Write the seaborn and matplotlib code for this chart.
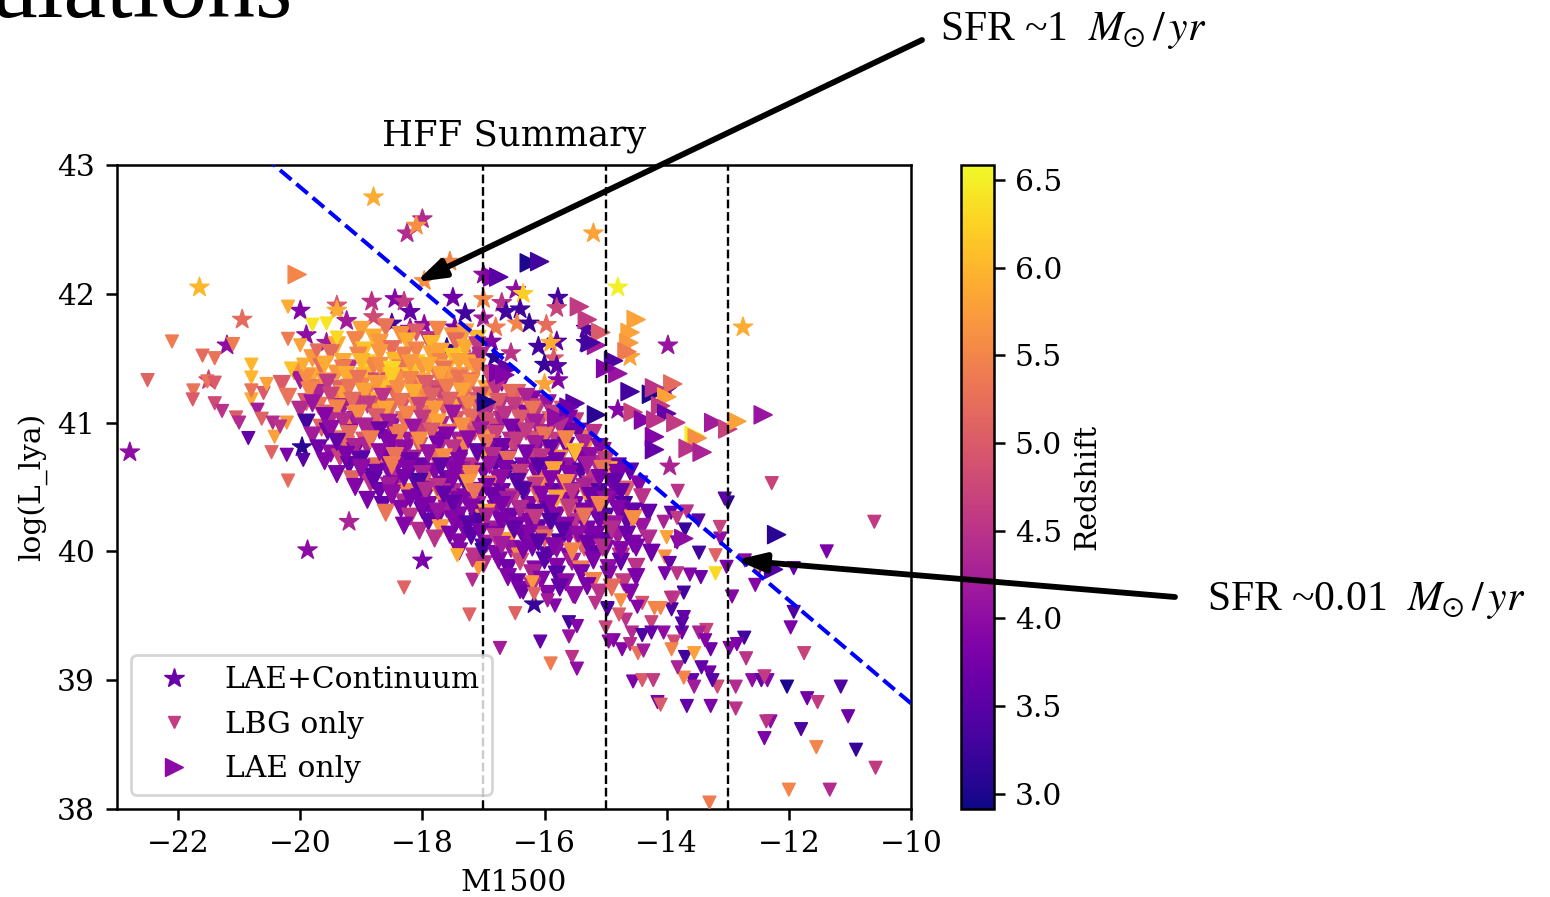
import numpy as np
import pandas as pd
import matplotlib
matplotlib.use("Agg")
import matplotlib.pyplot as plt
import seaborn as sns
from matplotlib.colors import Normalize
from matplotlib.cm import ScalarMappable
from matplotlib.lines import Line2D

# ---------- data ----------
star_m1500 = [-22.79,-21.65,-20.95,-18.8,-18.0,-18.25,-18.1,-17.55,-17.97,-15.2,-14.8,-12.75,-13.98,-19.88,
  -20.0,-19.4,-19.4,-19.24,-18.83,-18.45,-18.3,-18.2,-18.5,-18.8,-18.2,-17.97,-17.5,-17.3,-17.47,-17.0,-17.0,-16.8,-17.0,
  -16.87,-16.82,-17.3,-17.6,-17.4,-17.15,-21.2,-21.5,-19.9,-19.57,-19.97,-19.3,-19.2,-18.0,-16.17,
  -16.47,-16.35,-16.7,-16.63,-16.4,-16.45,-16.25,-15.97,-15.78,-15.8,-15.32,-15.32,-16.1,-15.8,-15.9,-15.85,-16.0,-15.8,-15.78,-16.0,-16.55,
  -14.6,-14.8,-14.0,-13.95]
star_loglya = [40.77,42.05,41.8,42.75,42.58,42.47,42.53,42.25,42.1,42.47,42.05,41.74,41.6,40.01,
  41.87,41.91,41.87,41.79,41.94,41.96,41.94,41.86,41.77,41.82,41.73,41.76,41.97,41.85,41.74,41.96,41.81,41.74,42.15,
  41.63,41.51,41.6,41.58,41.52,41.51,41.6,41.33,41.68,41.62,40.81,40.79,40.23,39.93,39.59,
  42.03,42.0,41.93,41.86,41.88,41.77,41.77,41.76,41.97,41.89,41.73,41.62,41.59,41.63,41.62,41.5,41.45,41.44,41.33,41.3,41.54,
  41.51,41.1,41.25,40.66]
star_z = [4.0,6.0,5.2,5.9,4.4,4.4,5.6,5.5,5.6,5.8,6.5,5.9,4.1,4.0,
  3.9,5.0,5.9,4.2,4.5,3.9,4.6,3.6,3.3,4.8,4.1,4.0,3.7,3.3,3.8,5.5,4.2,5.4,4.0,
  3.9,3.1,5.0,3.1,6.4,4.5,4.0,4.7,4.0,4.2,3.1,3.2,4.3,3.8,3.2,
  4.0,6.2,4.5,3.3,3.3,5.5,3.2,5.2,3.3,4.7,3.4,3.4,3.3,3.5,5.9,5.0,3.2,3.5,3.9,5.8,4.5,
  5.8,3.9,3.5,4.3]

lae_m1500 = [-20.05,-16.85,-16.75,-16.25,-16.08,-15.43,-15.3,-15.08,-15.15,-15.25,-14.5,-14.6,-14.62,-14.65,-14.87,-14.8,-15.0,
  -13.9,-14.6,-14.25,-14.2,-14.0,-14.1,-14.0,-14.55,-14.38,-14.18,-13.85,-13.23,-13.0,-12.85,-12.42,-13.55,-13.5,-13.65,-13.42,
  -14.2,-14.2,-15.15,-15.5,-15.8,-16.75,-16.95,-12.2,-12.25,-16.6,-16.65,-15.6,-13.72]
lae_loglya = [42.15,42.13,42.13,42.24,42.25,41.9,41.8,41.7,41.6,41.62,41.8,41.7,41.62,41.55,41.48,41.38,41.42,
  41.3,41.24,41.22,41.27,41.2,41.13,41.07,41.08,41.02,41.02,41.0,41.0,40.95,41.01,41.06,40.9,40.88,40.8,40.77,
  40.89,40.79,41.06,41.15,41.04,41.39,41.16,40.13,39.86,41.42,41.37,41.12,40.1]
lae_z = [5.5,3.9,3.5,3.0,3.3,4.6,4.6,5.0,4.2,3.3,5.8,5.8,5.7,5.4,3.4,4.1,3.9,
  5.2,3.3,3.0,4.5,5.8,4.6,3.6,4.7,3.9,4.5,4.6,4.2,4.7,5.8,4.1,6.5,5.6,4.5,4.3,
  3.9,3.6,3.1,3.5,4.0,3.8,3.0,3.1,3.4,3.6,3.9,3.7,4.0]

lbg_sparse_m1500 = [-22.1,-22.5,-21.6,-21.4,-21.1,-21.75,-21.76,-21.52,-21.4,-21.4,-21.28,-21.05,-21.0,-20.85,-20.47,-20.22,-19.95,-20.2,
  -20.2,-20.2,-20.8,-20.8,-20.8,-20.8,-20.6,-20.7,-20.63,-20.42,-20.45,-20.22,-20.33,-19.8,-19.57,-19.4,-20.0,-19.73,-20.15,-19.95,-20.55,
  -18.3,-17.23,-16.48,-16.73,-16.07,-15.9,-15.55,-15.47,-15.6,-15.47,-15.6,-17.18,-17.08,-17.18,-17.43,-17.03,-16.35,-16.2,-16.17,-15.83,-15.95,-15.53,-15.17,-14.97,
  -12.28,-10.6,-11.38,-13.0,-13.05,-13.47,-13.2,-13.02,-13.2,-13.62,-13.44,-13.12,-13.13,-13.48,-13.67,-13.82,-13.93,-14.05,-13.83,-14.0,-13.7,-13.83,-14.03,-13.95,-14.03,-13.83,
  -12.55,-12.5,-11.92,-12.72,-12.52,-12.93,-11.92,-11.97,-11.75,-12.73,-12.85,-12.97,-12.7,-12.6,-12.45,-12.35,-12.4,-12.03,-11.7,-11.53,-11.15,-11.03,-11.8,-10.9,-10.58,-11.55,
  -12.3,-12.37,-12.4,-12.0,-11.33,-13.3,-12.87,-12.87,-13.17,-13.28,-13.67,-14.15,-14.1,-14.55,-14.4,-14.22,-13.58,-13.55,-13.72,-13.82,-13.7,-13.55,-13.43,-13.3,-13.25,-13.28,
  -13.35,-13.47,-13.37,-13.75,-13.75,-13.72,-13.72,-13.88,-13.92,-14.05,-13.88,-13.92,-14.25,-14.67,-14.78,-14.4,-14.2,-14.1,-14.48,-13.93,-14.75,-14.97,-15.0,-14.57,-14.4,-14.25,-14.87,-14.95,-14.73,-14.6,-14.47,-14.38]
lbg_sparse_loglya = [41.63,41.33,41.52,41.5,41.61,41.25,41.18,41.32,41.31,41.15,41.09,41.04,41.0,40.88,40.77,40.75,40.71,40.55,
  41.9,41.65,41.45,41.35,41.18,41.25,41.23,41.1,41.03,40.89,41.0,41.0,40.97,41.76,41.77,41.66,41.6,41.56,41.42,41.45,41.3,
  39.72,39.51,39.52,39.25,39.3,39.13,39.18,39.09,39.45,39.42,39.34,39.78,39.87,39.93,39.97,40.01,39.68,39.76,39.67,39.58,39.62,39.65,39.6,39.55,
  40.53,40.23,40.0,40.38,40.41,39.99,39.97,39.88,39.83,39.82,39.8,40.1,40.19,40.24,40.31,40.47,40.3,40.23,40.26,40.11,40.17,40.07,39.96,39.91,39.83,39.83,
  39.74,39.86,39.87,39.93,39.88,39.65,39.53,39.41,39.21,39.33,39.28,39.25,39.17,39.0,39.0,39.0,39.03,38.95,38.86,38.83,38.95,38.72,38.62,38.46,38.32,38.48,
  38.68,38.68,38.55,38.15,38.15,38.05,38.95,38.78,38.95,38.8,38.8,38.83,38.81,38.99,39.0,39.0,39.0,38.95,39.02,39.1,39.18,39.21,39.1,39.06,39.0,39.24,
  39.39,39.37,39.31,39.37,39.44,39.49,39.68,39.64,39.55,39.37,39.3,39.24,39.45,39.47,39.51,39.6,39.56,39.56,39.57,39.64,39.62,39.56,39.41,39.37,39.35,39.37,39.31,39.3,39.24,39.28,39.21,39.23]
lbg_sparse_z = [5.4,5.1,5.2,5.3,5.4,5.3,5.0,5.3,5.0,4.8,4.5,5.0,4.4,3.6,5.1,3.8,3.5,5.2,
  5.9,5.4,6.0,6.0,5.9,5.3,5.0,4.2,5.1,5.8,4.4,5.7,4.5,6.4,6.4,6.3,5.8,5.2,6.1,5.9,5.8,
  5.1,5.1,5.1,4.2,3.6,5.4,4.5,4.0,3.3,3.9,4.1,4.4,5.7,4.5,5.9,3.3,3.7,5.7,5.1,3.9,4.2,4.0,4.5,3.5,
  4.7,4.6,3.8,3.1,3.5,3.3,5.1,3.8,6.3,3.9,3.7,4.0,4.7,3.5,4.5,4.5,3.6,4.3,4.6,5.8,3.2,3.9,5.6,3.6,3.8,4.5,
  3.9,4.1,3.6,4.0,5.8,3.9,3.4,3.8,4.7,3.3,3.8,3.9,4.5,4.0,3.6,3.9,4.6,3.0,3.7,4.6,3.4,3.7,3.4,3.2,4.6,5.5,
  4.0,4.5,3.8,5.5,4.4,5.4,4.4,4.5,4.8,3.8,3.6,3.8,5.0,3.8,5.0,4.6,3.6,4.2,5.5,4.3,3.3,5.8,3.6,3.7,3.5,3.7,
  4.7,4.3,3.9,3.7,3.4,3.6,3.3,4.6,3.4,4.0,4.8,5.5,4.7,4.5,5.0,4.9,5.5,5.5,3.9,4.5,5.6,3.4,4.7,4.4,3.4,3.6,3.9,4.0,3.9,4.4,5.3,4.2]

lbg_cloud_m1500 = [
  -19.0,-18.8,-18.6,-18.35,-18.1,-17.9,-17.75,-17.5,-17.3,-17.1,
  -19.4,-19.1,-18.95,-18.7,-18.5,-18.25,-18.1,-17.85,-17.7,-17.45,-17.3,-17.1,
  -19.8,-19.5,-19.3,-19.05,-18.9,-18.7,-18.45,-18.3,-18.1,-17.85,-17.7,-17.5,-17.25,-17.05,
  -20.1,-19.8,-19.65,-19.4,-19.2,-18.95,-18.8,-18.6,-18.35,-18.2,-18.0,-17.75,-17.6,-17.4,-17.15,-16.9,
  -20.3,-20.0,-19.75,-19.6,-19.35,-19.2,-19.0,-18.75,-18.6,-18.4,-18.15,-18.0,-17.8,-17.55,-17.4,-17.2,-16.95,-16.7,
  -20.2,-19.9,-19.7,-19.45,-19.3,-19.05,-18.9,-18.7,-18.45,-18.3,-18.05,-17.9,-17.7,-17.45,-17.3,-17.1,-16.85,-16.7,-16.45,-16.2,
  -20.0,-19.7,-19.55,-19.3,-19.1,-18.85,-18.7,-18.5,-18.25,-18.1,-17.9,-17.65,-17.5,-17.3,-17.05,-16.9,-16.7,-16.45,-16.3,-16.1,-15.85,-15.7,
  -19.9,-19.65,-19.5,-19.25,-19.1,-18.9,-18.65,-18.5,-18.3,-18.05,-17.9,-17.7,-17.45,-17.3,-17.1,-16.85,-16.7,-16.5,-16.25,-16.1,-15.9,-15.7,-15.5,
  -19.8,-19.55,-19.4,-19.2,-18.95,-18.8,-18.6,-18.35,-18.2,-18.0,-17.75,-17.6,-17.4,-17.15,-17.0,-16.8,-16.55,-16.4,-16.2,-15.95,-15.8,-15.6,-15.35,-15.2,
  -19.7,-19.5,-19.25,-19.1,-18.9,-18.65,-18.5,-18.3,-18.05,-17.9,-17.7,-17.45,-17.3,-17.1,-16.85,-16.7,-16.5,-16.25,-16.1,-15.9,-15.65,-15.5,-15.3,-15.05,
  -19.6,-19.35,-19.2,-19.0,-18.75,-18.6,-18.4,-18.15,-18.0,-17.8,-17.55,-17.4,-17.2,-16.95,-16.8,-16.6,-16.35,-16.2,-16.0,-15.75,-15.6,-15.4,-15.15,-15.0,-14.8,
  -19.4,-19.15,-19.0,-18.8,-18.55,-18.4,-18.2,-17.95,-17.8,-17.6,-17.35,-17.2,-17.0,-16.75,-16.6,-16.4,-16.15,-16.0,-15.8,-15.55,-15.4,-15.2,-14.95,-14.8,-14.6,
  -19.1,-18.85,-18.7,-18.5,-18.25,-18.1,-17.9,-17.65,-17.5,-17.3,-17.05,-16.9,-16.7,-16.45,-16.3,-16.1,-15.85,-15.7,-15.5,-15.25,-15.1,-14.9,-14.65,-14.45,
  -18.9,-18.65,-18.5,-18.3,-18.05,-17.9,-17.7,-17.45,-17.3,-17.1,-16.85,-16.7,-16.5,-16.25,-16.1,-15.9,-15.65,-15.5,-15.3,-15.05,-14.9,-14.7,-14.4,
  -18.6,-18.35,-18.2,-18.0,-17.75,-17.6,-17.4,-17.15,-17.0,-16.8,-16.55,-16.4,-16.2,-15.95,-15.8,-15.6,-15.35,-15.2,-15.0,-14.75,-14.55,-14.3,
  -18.3,-18.05,-17.9,-17.7,-17.45,-17.3,-17.1,-16.85,-16.7,-16.5,-16.25,-16.1,-15.9,-15.65,-15.5,-15.3,-15.05,-14.9,-14.65,-14.4,
  -17.8,-17.55,-17.4,-17.2,-16.95,-16.8,-16.6,-16.35,-16.2,-16.0,-15.75,-15.6,-15.4,-15.15,-15.0,-14.8,-14.55,-14.3,
  -17.4,-17.15,-17.0,-16.8,-16.55,-16.4,-16.2,-15.95,-15.8,-15.6,-15.35,-15.2,-15.0,-14.75,-14.5,-14.25,
  -17.0,-16.75,-16.6,-16.4,-16.15,-16.0,-15.8,-15.55,-15.4,-15.2,-14.95,-14.75,-14.5,
  -16.6,-16.45,-16.2,-16.05,-15.8,-15.65,-15.4,-15.2,-14.95,-14.7,-14.5,
  -16.4,-16.2,-15.95,-15.75,-15.5,-15.3,-15.1,-14.9,-14.6]
lbg_cloud_loglya = [
  41.72,41.66,41.74,41.68,41.7,41.64,41.72,41.67,41.7,41.65,
  41.6,41.64,41.56,41.62,41.57,41.63,41.56,41.61,41.55,41.63,41.58,41.6,
  41.5,41.54,41.47,41.52,41.46,41.54,41.48,41.52,41.46,41.53,41.47,41.51,41.46,41.52,
  41.4,41.36,41.43,41.38,41.42,41.36,41.44,41.38,41.42,41.36,41.43,41.37,41.42,41.36,41.43,41.38,
  41.3,41.33,41.27,41.32,41.26,41.33,41.28,41.32,41.26,41.33,41.27,41.32,41.26,41.33,41.28,41.32,41.26,41.31,
  41.2,41.16,41.23,41.18,41.22,41.16,41.23,41.17,41.22,41.16,41.23,41.18,41.22,41.16,41.23,41.17,41.22,41.16,41.23,41.18,
  41.1,41.13,41.07,41.12,41.06,41.13,41.08,41.12,41.06,41.13,41.07,41.12,41.06,41.13,41.08,41.12,41.06,41.13,41.07,41.12,41.06,41.1,
  41.0,40.96,41.03,40.98,41.02,40.96,41.03,40.97,41.02,40.96,41.03,40.98,41.02,40.96,41.03,40.97,41.02,40.96,41.03,40.98,41.02,40.96,41.01,
  40.9,40.93,40.87,40.92,40.86,40.93,40.88,40.92,40.86,40.93,40.87,40.92,40.86,40.93,40.88,40.92,40.86,40.93,40.87,40.92,40.86,40.93,40.88,40.92,
  40.8,40.76,40.83,40.78,40.82,40.76,40.83,40.77,40.82,40.76,40.83,40.78,40.82,40.76,40.83,40.77,40.82,40.76,40.83,40.78,40.82,40.76,40.83,40.78,
  40.7,40.73,40.67,40.72,40.66,40.73,40.68,40.72,40.66,40.73,40.67,40.72,40.66,40.73,40.68,40.72,40.66,40.73,40.67,40.72,40.66,40.73,40.68,40.72,40.66,
  40.6,40.56,40.63,40.58,40.62,40.56,40.63,40.57,40.62,40.56,40.63,40.58,40.62,40.56,40.63,40.57,40.62,40.56,40.63,40.58,40.62,40.56,40.63,40.58,40.62,
  40.5,40.53,40.47,40.52,40.46,40.53,40.48,40.52,40.46,40.53,40.47,40.52,40.46,40.53,40.48,40.52,40.46,40.53,40.47,40.52,40.46,40.53,40.48,40.52,
  40.4,40.36,40.43,40.38,40.42,40.36,40.43,40.37,40.42,40.36,40.43,40.38,40.42,40.36,40.43,40.37,40.42,40.36,40.43,40.38,40.42,40.36,40.42,
  40.3,40.33,40.27,40.32,40.26,40.33,40.28,40.32,40.26,40.33,40.27,40.32,40.26,40.33,40.28,40.32,40.26,40.33,40.27,40.32,40.26,40.3,
  40.2,40.16,40.23,40.18,40.22,40.16,40.23,40.17,40.22,40.16,40.23,40.18,40.22,40.16,40.23,40.17,40.22,40.16,40.23,40.19,
  40.1,40.13,40.07,40.12,40.06,40.13,40.08,40.12,40.06,40.13,40.07,40.12,40.06,40.13,40.08,40.12,40.06,40.1,
  40.0,39.96,40.03,39.98,40.02,39.96,40.03,39.97,40.02,39.96,40.03,39.98,40.02,39.96,40.03,39.99,
  39.9,39.93,39.87,39.92,39.86,39.93,39.88,39.92,39.86,39.93,39.87,39.92,39.88,
  39.8,39.76,39.83,39.78,39.82,39.76,39.83,39.77,39.82,39.76,39.8,
  39.7,39.73,39.67,39.72,39.66,39.73,39.68,39.72,39.68]
lbg_cloud_z = [
  5.8,5.9,5.3,5.6,5.0,4.5,5.5,5.7,5.8,6.0,
  5.9,5.5,6.1,5.7,5.2,5.9,5.5,6.0,5.8,5.2,5.9,4.6,
  5.7,5.2,5.9,5.5,6.2,5.7,6.0,5.4,6.2,5.8,5.5,6.1,5.8,4.4,
  5.6,5.9,5.2,5.7,4.4,6.0,5.5,5.9,5.3,6.1,5.7,5.4,5.9,5.6,5.8,4.5,
  5.0,4.2,5.4,5.7,5.1,5.9,5.5,4.8,6.1,5.6,5.3,5.9,4.9,5.7,5.5,5.1,5.8,4.0,
  5.3,5.0,4.3,5.5,5.8,4.6,5.4,6.0,5.2,4.9,5.7,5.5,4.7,5.9,5.3,5.0,5.6,4.4,5.1,3.9,
  4.4,5.3,5.1,4.2,5.5,4.9,5.7,5.2,4.5,5.6,5.4,5.0,5.7,4.7,5.3,4.4,4.9,5.2,3.9,4.6,4.3,5.0,
  3.3,5.1,4.4,5.5,4.2,4.9,5.4,4.1,5.3,4.7,5.6,4.3,5.0,5.4,4.1,4.8,4.3,5.0,4.5,4.7,5.2,3.9,4.6,
  4.2,3.7,5.3,4.0,5.0,4.3,3.9,5.4,4.1,4.7,3.8,5.3,4.2,4.9,5.7,4.1,4.4,3.7,4.9,4.3,4.6,3.6,5.3,4.5,
  3.7,4.0,5.2,3.8,4.3,5.3,3.9,4.1,5.0,3.7,4.4,3.9,5.5,4.1,4.0,3.6,4.7,5.2,3.9,4.5,3.7,4.2,5.6,4.0,
  3.9,4.7,3.6,4.0,5.2,3.8,3.9,4.3,3.7,5.3,4.0,3.8,4.5,5.8,3.5,4.1,3.9,4.6,3.7,5.5,4.1,3.8,4.4,5.6,3.7,
  3.8,5.1,4.0,3.5,3.9,4.4,3.7,5.0,3.9,3.6,4.2,5.6,3.8,4.0,3.3,4.5,3.9,5.2,3.7,4.1,3.5,4.6,5.9,3.9,3.6,
  3.9,4.5,3.7,3.9,5.5,3.6,4.0,3.8,4.4,3.5,3.9,5.2,3.7,4.1,3.8,5.7,3.6,4.0,3.9,4.5,3.4,3.8,5.0,3.9,
  3.8,3.6,4.0,4.4,3.7,3.9,5.6,3.5,3.9,4.2,3.8,3.6,4.6,3.9,5.3,3.4,4.0,3.8,5.8,3.6,3.9,3.3,4.5,
  5.3,3.9,4.5,3.6,3.8,4.2,3.9,3.4,5.6,4.0,3.7,3.9,4.6,3.5,3.9,5.4,3.7,4.0,3.4,3.8,5.0,3.6,
  3.9,4.4,3.6,5.7,3.8,3.9,3.4,4.2,3.8,5.2,3.9,3.6,4.0,3.3,4.5,3.8,5.6,3.9,3.6,4.1,
  4.5,3.8,3.9,3.5,4.3,3.9,5.8,3.7,3.9,4.6,3.4,3.9,5.0,3.8,3.6,4.2,3.9,4.4,
  3.9,4.5,3.4,3.9,4.1,5.6,3.8,3.5,4.0,3.9,5.0,3.6,3.9,4.5,3.8,3.7,
  4.4,3.9,3.7,4.8,3.9,3.5,3.9,4.2,5.4,3.8,4.0,3.6,4.5,
  3.9,3.7,4.3,3.9,3.5,4.0,3.8,5.5,3.9,4.6,3.8,
  3.8,4.4,3.9,3.6,4.0,3.8,4.5,5.2,3.9]

lbg_core_m1500 = [
  -19.6,-19.3,-19.0,-18.7,-18.5,-18.2,-17.9,-17.65,-17.4,-17.1,
  -19.9,-19.55,-19.25,-19.05,-18.75,-18.5,-18.2,-17.95,-17.7,-17.4,-17.2,-16.9,
  -19.85,-19.5,-19.2,-18.95,-18.65,-18.4,-18.15,-17.85,-17.6,-17.35,-17.05,-16.8,-16.55,-16.3,
  -19.8,-19.4,-19.15,-18.9,-18.6,-18.35,-18.05,-17.8,-17.55,-17.25,-17.0,-16.75,-16.5,-16.2,-15.95,
  -19.6,-19.3,-19.05,-18.75,-18.55,-18.25,-18.0,-17.75,-17.5,-17.2,-16.95,-16.65,-16.4,-16.15,-15.85,-15.6,
  -19.5,-19.2,-18.95,-18.7,-18.4,-18.15,-17.85,-17.6,-17.35,-17.05,-16.8,-16.55,-16.3,-16.0,-15.75,-15.45,
  -19.4,-19.1,-18.85,-18.55,-18.3,-18.05,-17.75,-17.5,-17.25,-16.95,-16.7,-16.45,-16.15,-15.9,-15.65,-15.35,-15.1,
  -19.25,-19.0,-18.7,-18.45,-18.2,-17.9,-17.65,-17.4,-17.1,-16.85,-16.6,-16.3,-16.05,-15.8,-15.5,-15.25,-15.0,
  -19.0,-18.75,-18.5,-18.25,-18.0,-17.7,-17.45,-17.2,-16.9,-16.65,-16.4,-16.1,-15.85,-15.6,-15.3,-15.05,-14.8,
  -18.8,-18.55,-18.3,-18.05,-17.75,-17.5,-17.25,-16.95,-16.7,-16.45,-16.15,-15.9,-15.65,-15.35,-15.1,-14.85,
  -18.5,-18.2,-17.95,-17.65,-17.4,-17.15,-16.85,-16.6,-16.35,-16.05,-15.8,-15.55,-15.25,-15.0,-14.75,
  -18.0,-17.75,-17.5,-17.2,-16.95,-16.7,-16.4,-16.15,-15.9,-15.6,-15.35,-15.1,-14.8,-14.55,
  -17.5,-17.25,-16.95,-16.7,-16.45,-16.15,-15.9,-15.65,-15.35,-15.1,-14.85,-14.55,
  -17.05,-16.8,-16.5,-16.25,-16.0,-15.7,-15.45,-15.2,-14.9,-14.65,
  -16.7,-16.35,-16.1,-15.85,-15.55,-15.3,-15.05,-14.75]
lbg_core_loglya = [
  41.45,41.42,41.47,41.44,41.41,41.46,41.44,41.41,41.47,41.43,
  41.35,41.31,41.37,41.34,41.3,41.36,41.33,41.3,41.37,41.34,41.31,41.36,
  41.25,41.21,41.27,41.24,41.2,41.26,41.23,41.2,41.27,41.24,41.21,41.26,41.23,41.2,
  41.15,41.11,41.17,41.14,41.1,41.16,41.13,41.1,41.17,41.14,41.11,41.16,41.13,41.1,41.15,
  41.05,41.01,41.07,41.04,41.0,41.06,41.03,41.0,41.07,41.04,41.01,41.06,41.03,41.0,41.07,41.03,
  40.95,40.91,40.97,40.94,40.9,40.96,40.93,40.9,40.97,40.94,40.91,40.96,40.93,40.9,40.97,40.93,
  40.85,40.81,40.87,40.84,40.8,40.86,40.83,40.8,40.87,40.84,40.81,40.86,40.83,40.8,40.87,40.84,40.81,
  40.75,40.71,40.77,40.74,40.7,40.76,40.73,40.7,40.77,40.74,40.71,40.76,40.73,40.7,40.77,40.74,40.71,
  40.65,40.61,40.67,40.64,40.6,40.66,40.63,40.6,40.67,40.64,40.61,40.66,40.63,40.6,40.67,40.64,40.61,
  40.55,40.51,40.57,40.54,40.5,40.56,40.53,40.5,40.57,40.54,40.51,40.56,40.53,40.5,40.57,40.54,
  40.45,40.41,40.47,40.44,40.4,40.46,40.43,40.4,40.47,40.44,40.41,40.46,40.43,40.4,40.46,
  40.35,40.31,40.37,40.34,40.3,40.36,40.33,40.3,40.37,40.34,40.31,40.36,40.33,40.31,
  40.25,40.21,40.27,40.24,40.2,40.26,40.23,40.2,40.27,40.24,40.21,40.25,
  40.15,40.11,40.17,40.14,40.1,40.16,40.13,40.1,40.17,40.13,
  40.05,40.01,40.07,40.04,40.0,40.06,40.03,40.01]
lbg_core_z = [
  5.9,5.4,6.0,5.6,6.3,5.7,5.9,5.3,5.8,5.5,
  5.6,4.6,5.9,5.3,5.7,6.2,5.5,5.0,5.8,5.3,5.6,4.8,
  5.5,4.7,5.3,5.8,4.5,5.6,5.9,5.1,5.4,5.8,4.9,4.5,5.2,4.3,
  4.1,5.5,5.2,4.6,5.8,5.3,4.7,5.7,5.1,5.5,4.4,5.0,4.6,5.3,4.1,
  3.9,4.4,5.6,5.0,4.2,5.5,4.6,5.8,4.1,5.2,4.8,4.5,5.0,4.2,4.6,3.9,
  4.0,5.2,4.3,3.7,5.4,4.1,5.0,3.9,5.6,4.2,4.7,3.8,4.6,5.3,4.4,3.7,
  3.6,4.3,5.4,3.9,4.0,5.6,3.8,4.5,4.0,5.3,3.7,4.6,4.2,3.6,5.5,4.3,3.9,
  3.8,3.5,4.0,5.3,3.7,4.1,5.6,3.9,3.6,4.4,5.2,3.8,4.5,3.7,6.0,4.0,4.6,
  4.0,3.7,5.4,3.9,4.3,3.6,3.9,5.5,4.1,3.8,4.6,3.5,5.8,3.9,4.2,5.3,3.8,
  3.6,4.2,3.8,3.4,4.5,3.9,5.7,3.8,4.0,3.5,4.6,3.9,5.6,4.3,3.8,3.6,
  4.0,3.8,4.4,3.6,3.9,5.3,3.7,4.2,3.4,3.9,5.8,4.5,3.7,4.0,3.6,
  3.8,4.1,3.6,3.9,5.7,3.8,4.4,3.5,3.9,4.6,3.8,5.5,3.9,3.6,
  3.9,3.5,4.3,3.8,3.9,4.6,3.4,3.9,5.3,3.7,4.1,5.6,
  3.8,4.5,3.6,3.9,5.2,3.5,4.0,3.8,4.4,3.7,
  4.2,3.8,3.5,3.9,5.5,3.7,4.4,3.9]

lbg_dense_m1500 = lbg_cloud_m1500 + lbg_core_m1500
lbg_dense_loglya = lbg_cloud_loglya + lbg_core_loglya
lbg_dense_z = lbg_cloud_z + lbg_core_z

sfr_line_m1500 = [-23.0, -10.0]
sfr_line_loglya = [44.03, 38.82]
limit_m1500 = [-17, -15, -13]
z_range = (2.914, 6.585)
legend_labels = ["LAE+Continuum", "LBG only", "LAE only"]

# ---------- drawing ----------
sns.set_style("white")
plt.rcParams["font.family"] = ["DejaVu Serif"]
plt.rcParams["mathtext.fontset"] = "stix"
for key in ("text.color", "axes.labelcolor", "xtick.color", "ytick.color", "axes.edgecolor"):
    plt.rcParams[key] = "black"
W, H = 1550, 897
fig = plt.figure(figsize=(W / 100, H / 100), dpi=100)
ax = fig.add_axes([117 / W, 1 - 809 / H, 794 / W, 644 / H])
cax = fig.add_axes([961 / W, 1 - 809 / H, 33 / W, 644 / H])
FS = 21.4

series = [
    (star_m1500, star_loglya, star_z, "*", 210),
    (lbg_dense_m1500, lbg_dense_loglya, lbg_dense_z, "v", 145),
    (lbg_sparse_m1500, lbg_sparse_loglya, lbg_sparse_z, "v", 85),
    (lae_m1500, lae_loglya, lae_z, ">", 170),
]
for xs, ys, zs, mk, size in series:
    df = pd.DataFrame({"M1500": xs, "logL": ys, "z": zs})
    sns.scatterplot(data=df, x="M1500", y="logL", hue="z", palette="plasma", hue_norm=z_range,
                    marker=mk, s=size, linewidth=1.0, edgecolor="face", legend=False, ax=ax, zorder=3)

ax.plot(sfr_line_m1500, sfr_line_loglya, color="blue", ls="--", lw=2.9, zorder=4)
for xv in limit_m1500:
    ax.axvline(xv, color="black", ls="--", lw=1.7, zorder=4)

ax.set_xlim(-23, -10)
ax.set_ylim(38, 43)
ax.set_xticks([-22, -20, -18, -16, -14, -12, -10])
ax.set_yticks([38, 39, 40, 41, 42, 43])
ax.tick_params(labelsize=FS, length=8, width=1.8, bottom=True, left=True, color="black", pad=7)
ax.tick_params(axis="y", pad=8)
for s in ax.spines.values():
    s.set_linewidth(1.8)
    s.set_color("black")
ax.set_title("HFF Summary", fontsize=25.5, pad=14)
ax.set_xlabel("M1500", fontsize=FS, labelpad=8)
ax.set_ylabel("log(L_lya)", fontsize=FS, labelpad=6)

handles = [
    Line2D([], [], ls="none", marker="*", ms=14.5, mew=1, color="#6a00a8"),
    Line2D([], [], ls="none", marker="v", ms=9.2, mew=1, color="#c33d80"),
    Line2D([], [], ls="none", marker=">", ms=13, mew=1, color="#8d0ba5"),
]
leg = ax.legend(handles, legend_labels, loc="lower left", fontsize=FS, frameon=True, framealpha=0.8,
                borderaxespad=0.47, handlelength=2.1, handletextpad=0.65, labelspacing=0.55)
leg.get_frame().set_linewidth(2.0)
leg.set_zorder(6)

sm = ScalarMappable(norm=Normalize(*z_range), cmap="plasma")
cb = fig.colorbar(sm, cax=cax)
cb.set_ticks([3.0, 3.5, 4.0, 4.5, 5.0, 5.5, 6.0, 6.5])
cb.ax.tick_params(labelsize=FS, length=8, width=1.8, right=True, pad=7)
cb.outline.set_linewidth(1.8)
cb.set_label("Redshift", fontsize=FS, labelpad=8)

def fxy(px, py):
    return (px / W, 1 - py / H)

for tail, tip in [((922, 40), (416, 282)), ((1175, 597), (736, 560))]:
    fig.add_artist(matplotlib.text.Annotation(
        "", xy=fxy(*tip), xytext=fxy(*tail), xycoords="figure fraction", textcoords="figure fraction",
        arrowprops=dict(arrowstyle="-|>,head_length=0.85,head_width=0.28", lw=4.2, color="black",
                        shrinkA=0, shrinkB=0, mutation_scale=20)))

annot_font = ["Liberation Serif"]
fig.text(*fxy(940, 40), r"SFR ~1 $\ M_{\odot}\,/\,yr$", fontsize=30, family=annot_font, va="baseline")
fig.text(*fxy(1207, 610), r"SFR ~0.01 $\ M_{\odot}\,/\,yr$", fontsize=30, family=annot_font, va="baseline")
fig.text(*fxy(-10, 17), "ulations", fontsize=69, family=annot_font, va="baseline")

fig.savefig("out.png", dpi=100)
